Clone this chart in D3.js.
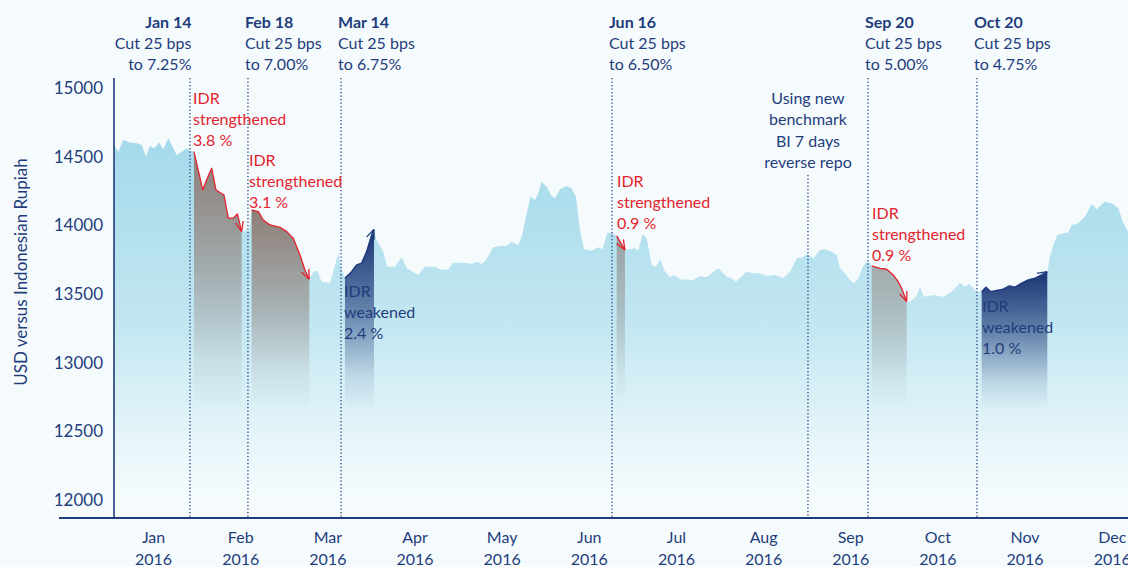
<!DOCTYPE html>
<html>
<head>
<meta charset="utf-8">
<script src="https://cdn.jsdelivr.net/npm/d3@7"></script>
<style>
	body { margin: 0; background: #f5fbfd; }
	svg { display: block; font-family: Lato, "Open Sans", sans-serif; }
</style>
</head>
<body>
<svg id="svg" width="1128" height="567"></svg>
<script>
const width = 1128;
const height = 567;
const navy = '#1f3d7c';
const red = '#e3232d';

// time axis in months since Jan 1 2016 (fractional), as drawn in the picture
const months = ['Jan', 'Feb', 'Mar', 'Apr', 'May', 'Jun', 'Jul', 'Aug', 'Sep', 'Oct', 'Nov', 'Dec'];
const yTicks = [12000, 12500, 13000, 13500, 14000, 14500, 15000];

const t = [
	0.046, 0.095, 0.153, 0.229, 0.306, 0.364, 0.413, 0.459, 0.508, 0.566, 0.612, 0.669, 0.765, 0.823, 0.880, 0.918,
	0.964, 1.064, 1.116, 1.167, 1.216, 1.308, 1.357, 1.415, 1.461, 1.511,
	1.532, 1.601,
	1.626, 1.702, 1.759, 1.836, 1.951, 2.028, 2.103, 2.180, 2.237, 2.287,
	2.333, 2.379, 2.429, 2.524, 2.620, 2.647,
	2.696, 2.773, 2.831, 2.888, 2.946, 3.003, 3.029,
	3.060, 3.136, 3.182, 3.270, 3.347, 3.404, 3.538, 3.614, 3.729, 3.806, 3.882, 3.939, 4.073, 4.150, 4.208,
	4.265, 4.314, 4.398, 4.475, 4.552, 4.609, 4.685, 4.724, 4.781, 4.827, 4.877, 4.914, 4.953, 5.011, 5.068,
	5.106, 5.164, 5.240, 5.298, 5.347, 5.393, 5.439, 5.527, 5.603, 5.653, 5.706, 5.768,
	5.814, 5.909,
	5.967, 6.024, 6.062, 6.112, 6.158, 6.216, 6.265, 6.311, 6.368, 6.426, 6.471, 6.540, 6.693, 6.770, 6.847,
	6.980, 7.083, 7.134, 7.183, 7.306, 7.381, 7.458, 7.535, 7.630, 7.726, 7.803, 7.880, 7.948, 8.001, 8.070,
	8.147, 8.204, 8.281, 8.338, 8.376, 8.434, 8.491, 8.537, 8.586, 8.637, 8.682, 8.721,
	8.740, 8.835, 8.912, 8.988, 9.045, 9.084, 9.142,
	9.180, 9.248, 9.294, 9.340, 9.447, 9.562, 9.639, 9.696, 9.753, 9.811, 9.860, 9.945,
	10.002, 10.052, 10.106, 10.174, 10.250, 10.319, 10.384, 10.461, 10.537, 10.614, 10.691, 10.755,
	10.786, 10.824, 10.870, 10.939, 10.996, 11.035, 11.111, 11.188, 11.264, 11.322, 11.417, 11.512, 11.570,
	11.627, 11.681, 11.750
];

const usd = [
	14587, 14538, 14623, 14604, 14599, 14587, 14502, 14580, 14563, 14604, 14555, 14636, 14514, 14538, 14563, 14545,
	14538, 14259, 14344, 14417, 14259, 14222, 14053, 14053, 14084, 13955,
	13960, 13965,
	14113, 14101, 14040, 14004, 13987, 13955, 13907, 13785, 13676, 13608,
	13663, 13671, 13590, 13579, 13797, 13700,
	13615, 13663, 13712, 13725, 13809, 13931, 13972,
	13894, 13809, 13700, 13700, 13768, 13688, 13639, 13700, 13700, 13676, 13681, 13729, 13729, 13719, 13736,
	13719, 13749, 13841, 13851, 13851, 13882, 13858, 13918, 14089, 14210, 14186, 14235, 14319, 14283, 14215,
	14198, 14264, 14288, 14271, 14210, 13967, 13827, 13816, 13841, 13827, 13948, 13943,
	13924, 13821,
	13827, 13834, 13816, 13938, 13907, 13712, 13700, 13754, 13663, 13622, 13639, 13608, 13603, 13632, 13622,
	13688, 13622, 13615, 13590, 13663, 13652, 13652, 13632, 13639, 13615, 13663, 13761, 13768, 13792, 13761,
	13821, 13827, 13809, 13785, 13688, 13652, 13603, 13579, 13615, 13700, 13736, 13725,
	13705, 13688, 13681, 13639, 13590, 13542, 13445,
	13445, 13481, 13554, 13481, 13493, 13481, 13510, 13542, 13583, 13554, 13574, 13517,
	13517, 13550, 13517, 13525, 13535, 13559, 13550, 13579, 13603, 13615, 13639, 13663,
	13773, 13858, 13931, 13943, 13948, 14004, 14016, 14064, 14157, 14118, 14174, 14157, 14125,
	14020, 13955, 13900
];

// policy rate cuts
const eventPos = [0.918, 1.583, 2.651, 5.760, 8.698, 9.948];
const eventDates = ['Jan 14', 'Feb 18', 'Mar 14', 'Jun 16', 'Sep 20', 'Oct 20'];
const eventCuts = ['Cut 25 bps', 'Cut 25 bps', 'Cut 25 bps', 'Cut 25 bps', 'Cut 25 bps', 'Cut 25 bps'];
const eventRates = ['to 7.25%', 'to 7.00%', 'to 6.75%', 'to 6.50%', 'to 5.00%', 'to 4.75%'];

const benchmarkPos = 8.009;
const benchmarkText = ['Using new', 'benchmark', 'BI 7 days', 'reverse repo'];

// IDR moves after each cut
const moveStart = [0.964, 1.626, 2.696, 5.814, 8.740, 10.002];
const moveEnd = [1.511, 2.287, 3.029, 5.909, 9.142, 10.755];
const moveWord = ['strengthened', 'strengthened', 'weakened', 'strengthened', 'strengthened', 'weakened'];
const movePct = ['3.8 %', '3.1 %', '2.4 %', '0.9 %', '0.9 %', '1.0 %'];

// layout of the move labels (first baseline, px)
const moveTextTop = [104, 166, 297, 187, 219, 312];
const moveTextDx = [3, 1, 3, 5, 4, 5];

const paddings = { left: 114, top: 78, right: 0, bottom: 49 };

const svg = d3.select('#svg');

const xScale = d3.scaleLinear()
	.domain([0.046, 12])
	.range([paddings.left, paddings.left + 11.954 * 87.15]);

const yScale = d3.scaleLinear()
	.domain([11868, 15075])
	.range([height - paddings.bottom, paddings.top]);

const defs = svg.append('defs');

defs.append('clipPath').attr('id', 'plot-clip')
	.append('rect')
	.attr('x', paddings.left).attr('y', paddings.top)
	.attr('width', width - paddings.left).attr('height', height - paddings.bottom - paddings.top);

const areaGrad = defs.append('linearGradient').attr('id', 'area-grad')
	.attr('gradientUnits', 'userSpaceOnUse')
	.attr('x1', 0).attr('x2', 0).attr('y1', 140).attr('y2', 500);
areaGrad.append('stop').attr('offset', 0).attr('stop-color', '#a4daeb');
areaGrad.append('stop').attr('offset', 0.5).attr('stop-color', '#c2e6f1');
areaGrad.append('stop').attr('offset', 0.85).attr('stop-color', '#e8f6fa');
areaGrad.append('stop').attr('offset', 1).attr('stop-color', '#f5fbfd');

const moveColors = ['#8f7e77', '#8f7e77', '#1b3474', '#9aa2a2', '#a2abab', '#1b3474'];
moveColors.forEach((c, i) => {
	const g = defs.append('linearGradient').attr('id', 'move-grad-' + i)
		.attr('x1', 0).attr('x2', 0).attr('y1', 0).attr('y2', 1);
	g.append('stop').attr('offset', 0).attr('stop-color', c).attr('stop-opacity', 1);
	g.append('stop').attr('offset', 0.45).attr('stop-color', c).attr('stop-opacity', 0.55);
	g.append('stop').attr('offset', 0.8).attr('stop-color', c).attr('stop-opacity', 0.12);
	g.append('stop').attr('offset', 1).attr('stop-color', c).attr('stop-opacity', 0);
});

[['arrow-red', red], ['arrow-navy', navy]].forEach(([id, c]) => {
	defs.append('marker').attr('id', id)
		.attr('viewBox', '0 0 10 10')
		.attr('refX', 10).attr('refY', 5)
		.attr('markerWidth', 10).attr('markerHeight', 10)
		.attr('markerUnits', 'userSpaceOnUse')
		.attr('orient', 'auto')
		.append('path')
		.attr('d', 'M0,1L10,5L0,9')
		.attr('fill', 'none')
		.attr('stroke', c)
		.attr('stroke-width', 1.3);
});

const idx = d3.range(t.length);

const area = d3.area()
	.x(i => xScale(t[i]))
	.y0(yScale(11868))
	.y1(i => yScale(usd[i]));

const plot = svg.append('g').attr('clip-path', 'url(#plot-clip)');

plot.append('path')
	.attr('d', area(idx))
	.attr('fill', 'url(#area-grad)');

// highlighted moves
moveStart.forEach((s, k) => {
	const part = idx.filter(i => t[i] >= s - 1e-6 && t[i] <= moveEnd[k] + 1e-6);
	const c = moveWord[k] === 'weakened' ? navy : red;
	const moveArea = d3.area()
		.x(i => xScale(t[i]))
		.y0(yScale(12650))
		.y1(i => yScale(usd[i]));
	plot.append('path')
		.attr('d', moveArea(part))
		.attr('fill', 'url(#move-grad-' + k + ')');
	plot.append('path')
		.attr('d', d3.line().x(i => xScale(t[i])).y(i => yScale(usd[i]))(part))
		.attr('fill', 'none')
		.attr('stroke', c)
		.attr('stroke-width', moveWord[k] === 'weakened' ? 1.6 : 1.3)
		.attr('stroke-linejoin', 'round')
		.attr('marker-end', moveWord[k] === 'weakened' ? 'url(#arrow-navy)' : 'url(#arrow-red)');
});

// dotted event lines
svg.selectAll(null)
	.data(eventPos)
	.enter()
	.append('line')
	.attr('x1', d => xScale(d)).attr('x2', d => xScale(d))
	.attr('y1', paddings.top).attr('y2', height - paddings.bottom)
	.attr('stroke', navy)
	.attr('stroke-width', 1.3)
	.attr('stroke-dasharray', '1.3,2.2');

svg.append('line')
	.attr('x1', xScale(benchmarkPos)).attr('x2', xScale(benchmarkPos))
	.attr('y1', 175).attr('y2', height - paddings.bottom)
	.attr('stroke', navy)
	.attr('stroke-width', 1.3)
	.attr('stroke-dasharray', '1.3,2.2');

// axes
svg.append('line')
	.attr('x1', paddings.left).attr('x2', paddings.left)
	.attr('y1', paddings.top).attr('y2', height - paddings.bottom)
	.attr('stroke', navy).attr('stroke-width', 1.6);

svg.append('line')
	.attr('x1', 59).attr('x2', width)
	.attr('y1', height - paddings.bottom).attr('y2', height - paddings.bottom)
	.attr('stroke', navy).attr('stroke-width', 2);

svg.selectAll(null)
	.data(yTicks)
	.enter()
	.append('text')
	.attr('x', 103)
	.attr('y', d => yScale(d))
	.attr('dy', '0.35em')
	.attr('text-anchor', 'end')
	.attr('fill', navy)
	.attr('font-size', 17)
	.text(d => d);

const monthG = svg.selectAll(null)
	.data(months)
	.enter()
	.append('text')
	.attr('text-anchor', 'middle')
	.attr('fill', navy)
	.attr('font-size', 16);
monthG.append('tspan')
	.attr('x', (d, i) => xScale(i + 0.5))
	.attr('y', 543)
	.text(d => d);
monthG.append('tspan')
	.attr('x', (d, i) => xScale(i + 0.5))
	.attr('y', 565)
	.text('2016');

svg.append('text')
	.attr('transform', 'translate(27,272) rotate(-90)')
	.attr('text-anchor', 'middle')
	.attr('fill', navy)
	.attr('font-size', 17)
	.text('USD versus Indonesian Rupiah');

// rate cut labels
eventPos.forEach((p, k) => {
	const right = k === 0;
	const tx = right ? xScale(p) + 1.5 : xScale(p) - 3;
	const g = svg.append('text')
		.attr('text-anchor', right ? 'end' : 'start')
		.attr('fill', navy)
		.attr('font-size', 16);
	g.append('tspan').attr('x', tx).attr('y', 28).attr('font-weight', 700).text(eventDates[k]);
	g.append('tspan').attr('x', tx).attr('y', 49).text(eventCuts[k]);
	g.append('tspan').attr('x', tx).attr('y', 70).text(eventRates[k]);
});

const bench = svg.append('text')
	.attr('text-anchor', 'middle')
	.attr('fill', navy)
	.attr('font-size', 16);
benchmarkText.forEach((s, i) => {
	bench.append('tspan').attr('x', xScale(benchmarkPos)).attr('y', 104 + i * 21.3).text(s);
});

// IDR move labels
moveStart.forEach((s, k) => {
	const c = moveWord[k] === 'weakened' ? navy : red;
	const tx = xScale(eventPos[k]) + moveTextDx[k];
	const g = svg.append('text').attr('fill', c).attr('font-size', 16);
	['IDR', moveWord[k], movePct[k]].forEach((s2, j) => {
		g.append('tspan').attr('x', tx).attr('y', moveTextTop[k] + j * 21).text(s2);
	});
});
</script>
</body>
</html>
